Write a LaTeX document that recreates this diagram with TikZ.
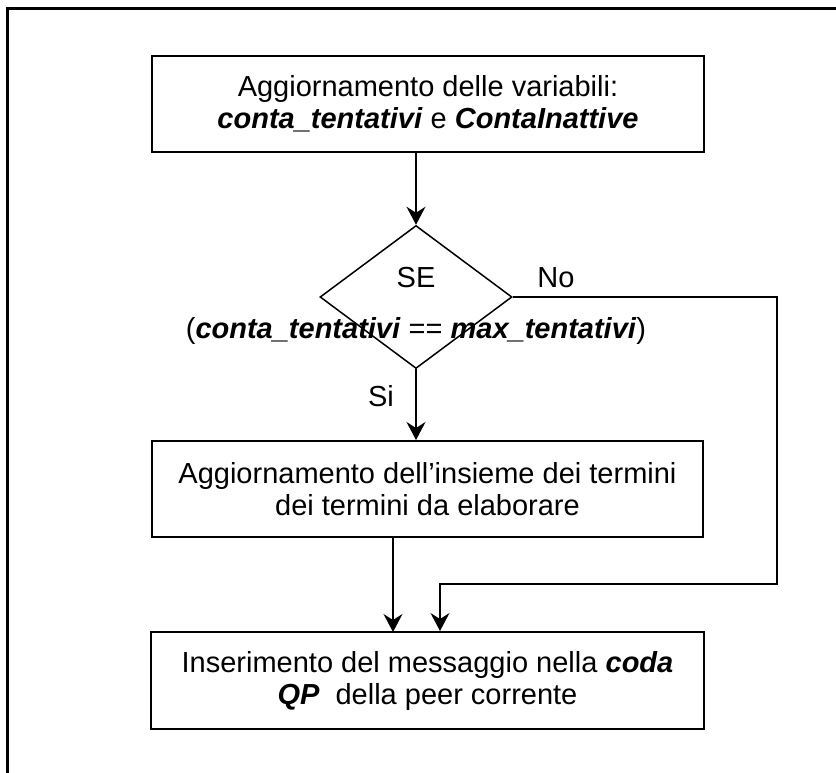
\documentclass[tikz,border=0pt]{standalone}
\usepackage{fontspec}
\setmainfont{Liberation Sans}
\usetikzlibrary{shapes.geometric,arrows.meta}
\newcommand{\bi}[1]{\textbf{\textit{#1}}}
\begin{document}
\begin{tikzpicture}[x=1pt,y=-1pt,
  font=\fontsize{29}{32}\selectfont,
  box/.style={draw=black,line width=2pt,align=center,inner sep=0pt,rectangle},
  cond/.style={draw=black,line width=1.5pt,diamond,inner sep=0pt,
    minimum width=192pt,minimum height=143pt},
  flow/.style={line width=1.6pt,-{Stealth[length=18pt,width=19pt,inset=6pt]}},
  lbl/.style={inner sep=0pt}]
  \useasboundingbox (0,0) rectangle (836,773);
  % outer frame, open towards the right and the bottom
  \draw[line width=2.5pt] (7.5,780) -- (7.5,8.5) -- (845,8.5);

  % boxes
  \node[box,minimum width=552pt,minimum height=96pt] (upd) at (428,104)
    {Aggiornamento delle variabili:\\\bi{conta\_tentativi} e \bi{ContaInattive}};
  \node[cond] (dec) at (416,297) {};
  \node[box,minimum width=551pt,minimum height=96pt] (ins) at (427.5,489)
    {Aggiornamento dell’insieme dei termini\\dei termini da elaborare};
  \node[box,minimum width=553pt,minimum height=97pt] (msg) at (427.5,680.5)
    {Inserimento del messaggio nella \bi{coda}\\\bi{QP}\ \ della peer corrente};

  % labels
  \node[lbl] (se) at (416,278) {SE};
  \node[lbl] (no) at (556,278) {No};
  \node[lbl] (expr) at (416,331) {(\bi{conta\_tentativi} == \bi{max\_tentativi})};
  \node[lbl] (si) at (381,396) {Si};

  % connectors
  \coordinate (cr1) at (777,297);
  \coordinate (cr2) at (777,584);
  \coordinate (cr3) at (440,584);
  \draw[flow] (dec.north |- upd.south) -- (dec.north);
  \draw[flow] (dec.south) -- (dec.south |- ins.north);
  \draw[flow] (393,537) -- (393,632);
  \draw[flow] (dec.east) -- (cr1) -- (cr2) -- (cr3) -- (cr3 |- msg.north);
\end{tikzpicture}
\end{document}
